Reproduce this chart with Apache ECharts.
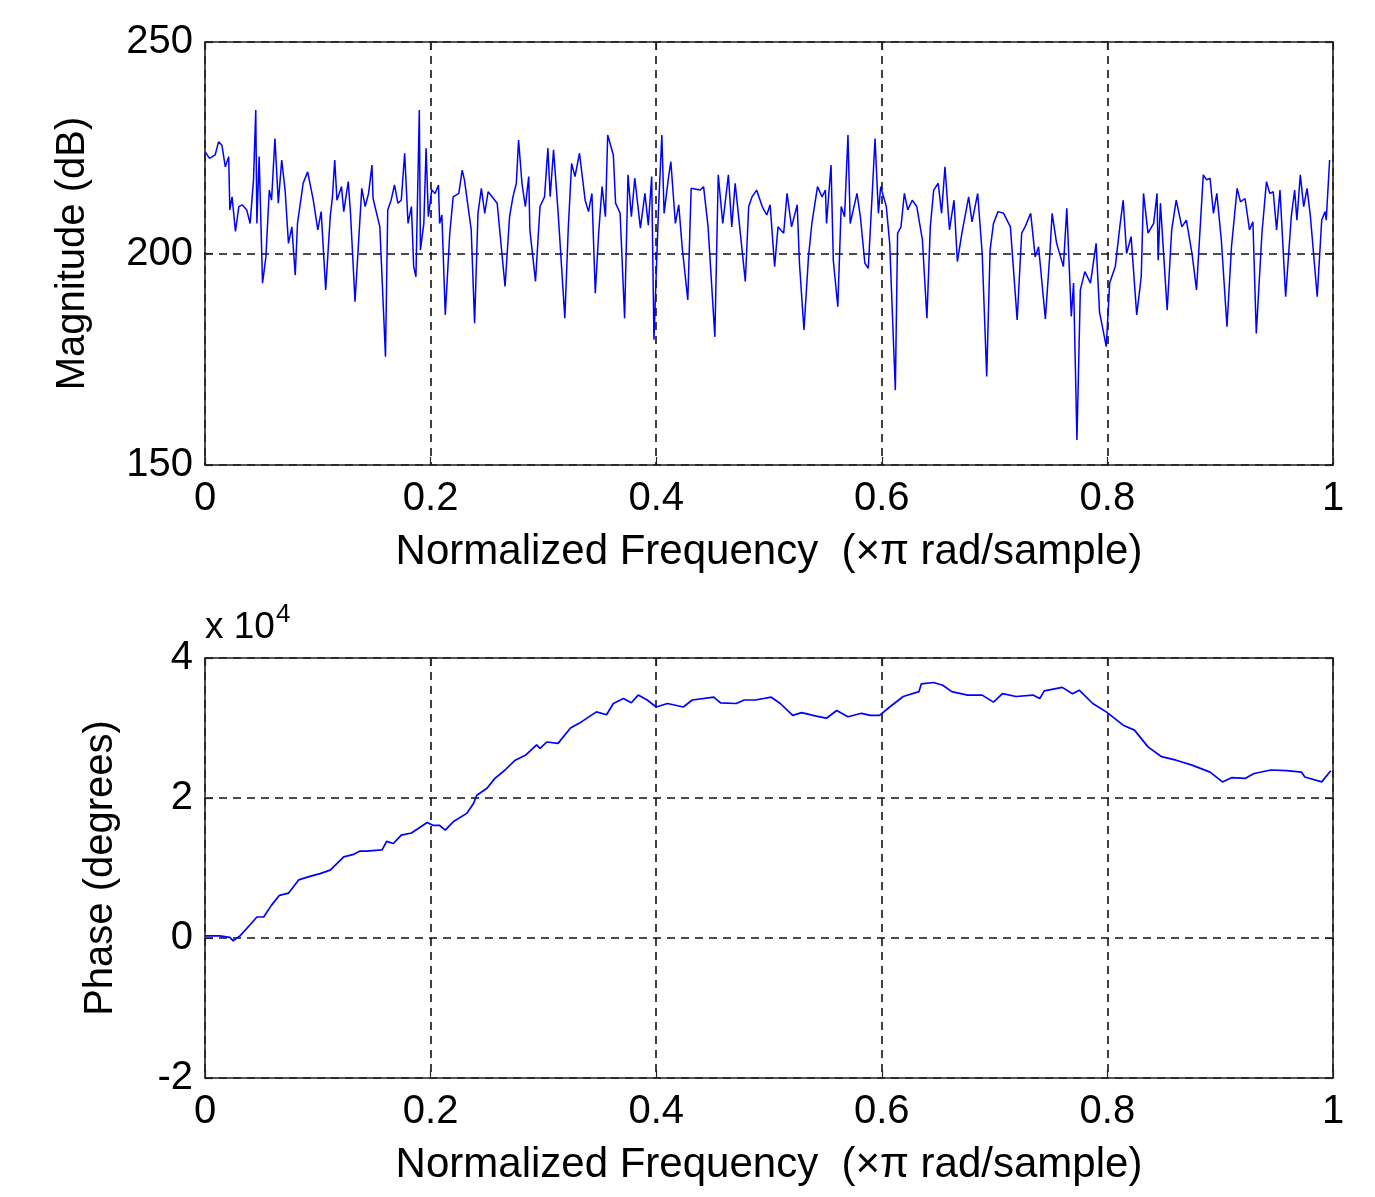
<!DOCTYPE html>
<html>
<head>
<meta charset="utf-8">
<script src="https://cdn.jsdelivr.net/npm/echarts@6/dist/echarts.min.js"></script>
<style>
html,body{margin:0;padding:0;background:#fff;}
#c{width:1375px;height:1197px;}
</style>
</head>
<body>
<div id="c"></div>
<script>
// ---- data ----
var magFreq = [0.000,0.004,0.009,0.012,0.015,0.018,0.021,0.022,0.024,0.027,0.030,0.033,0.037,0.040,0.043,0.045,0.046,0.048,0.051,0.054,0.057,0.059,0.062,0.065,0.068,0.071,0.074,0.077,0.080,0.082,0.087,0.091,0.096,0.100,0.103,0.107,0.111,0.113,0.115,0.117,0.121,0.123,0.127,0.129,0.133,0.139,0.142,0.145,0.148,0.149,0.155,0.160,0.162,0.165,0.168,0.171,0.174,0.177,0.180,0.183,0.185,0.187,0.190,0.191,0.194,0.196,0.198,0.201,0.204,0.207,0.208,0.210,0.213,0.217,0.220,0.225,0.228,0.230,0.236,0.239,0.242,0.245,0.248,0.251,0.259,0.266,0.270,0.273,0.276,0.278,0.281,0.284,0.287,0.288,0.293,0.297,0.301,0.304,0.306,0.309,0.313,0.319,0.322,0.325,0.328,0.332,0.337,0.340,0.343,0.346,0.349,0.352,0.355,0.357,0.362,0.364,0.368,0.372,0.375,0.378,0.381,0.386,0.390,0.393,0.396,0.398,0.402,0.405,0.407,0.411,0.413,0.417,0.420,0.423,0.428,0.431,0.439,0.442,0.446,0.452,0.455,0.459,0.464,0.467,0.470,0.474,0.479,0.482,0.485,0.489,0.494,0.498,0.501,0.505,0.508,0.513,0.516,0.520,0.525,0.527,0.531,0.535,0.538,0.543,0.547,0.550,0.551,0.555,0.557,0.561,0.564,0.567,0.570,0.572,0.578,0.581,0.585,0.588,0.592,0.594,0.597,0.599,0.604,0.607,0.612,0.614,0.617,0.620,0.623,0.627,0.631,0.636,0.640,0.643,0.646,0.650,0.653,0.656,0.660,0.664,0.667,0.671,0.677,0.680,0.685,0.689,0.693,0.696,0.699,0.703,0.708,0.714,0.720,0.724,0.727,0.732,0.736,0.739,0.745,0.749,0.751,0.755,0.761,0.764,0.768,0.770,0.773,0.776,0.780,0.785,0.790,0.793,0.799,0.802,0.807,0.811,0.814,0.817,0.821,0.826,0.830,0.832,0.836,0.841,0.844,0.845,0.847,0.853,0.857,0.861,0.866,0.870,0.875,0.879,0.885,0.888,0.891,0.894,0.897,0.901,0.906,0.910,0.915,0.918,0.922,0.926,0.929,0.932,0.937,0.941,0.944,0.947,0.950,0.953,0.958,0.963,0.966,0.968,0.971,0.974,0.977,0.980,0.986,0.990,0.993,0.994,0.997];
var magDb = [224.1,222.5,223.3,226.4,225.6,220.5,222.9,210.3,213.4,205.2,211.1,211.5,210.3,207.1,217.4,233.9,207.1,222.9,193.0,199.2,215.0,212.6,227.2,211.9,222.1,215.0,202.4,206.3,194.9,207.1,216.6,219.3,212.6,205.6,209.9,191.4,208.7,213.4,222.1,212.6,215.8,209.9,217.0,209.5,188.6,215.4,211.1,214.2,220.9,213.0,206.3,175.6,210.3,212.6,216.2,211.9,212.6,223.7,207.1,211.1,196.9,194.5,233.9,200.8,207.1,224.9,208.7,215.0,214.2,216.2,207.1,209.1,185.5,204.8,213.4,214.2,219.7,217.4,205.6,183.5,209.5,215.4,209.5,214.6,211.9,192.2,208.7,213.4,216.6,226.8,216.6,211.1,218.2,205.6,193.4,211.1,213.4,224.9,213.4,224.5,209.9,184.7,205.6,221.3,218.2,223.7,212.6,209.9,214.2,190.6,204.8,215.8,208.7,228.0,223.3,211.9,209.5,184.7,218.6,208.7,217.8,206.0,214.2,206.7,218.2,179.6,210.3,228.0,209.5,218.2,221.7,207.1,211.5,201.6,189.0,215.4,215.0,215.8,206.3,180.3,218.6,207.1,218.6,206.3,216.6,206.3,193.4,211.1,213.4,215.0,211.1,209.1,211.5,196.9,206.3,204.8,214.2,206.3,211.5,197.7,181.9,199.2,207.1,215.8,213.4,215.0,207.1,220.9,198.4,187.4,211.1,208.7,228.0,207.1,214.2,208.7,197.7,196.5,216.6,227.2,209.5,215.8,211.1,202.4,167.7,204.8,206.3,214.2,210.3,212.6,211.1,203.2,184.7,206.3,215.0,216.6,209.5,220.5,205.6,212.6,198.1,204.8,213.4,207.5,214.2,200.0,170.9,200.8,207.1,209.9,209.5,206.3,184.3,204.8,206.3,209.5,199.2,201.6,184.5,200.0,209.5,202.4,196.9,210.7,185.1,193.0,155.9,191.4,195.7,193.0,202.4,186.2,178.0,193.0,196.9,206.3,212.6,200.0,204.0,185.5,194.5,214.2,204.8,207.1,214.2,198.4,211.9,186.6,205.6,212.6,206.3,207.9,200.0,191.4,218.6,217.4,217.8,209.5,214.2,203.2,182.7,201.6,215.4,212.2,213.0,205.6,207.5,181.1,204.8,217.0,214.2,214.6,205.6,215.0,189.8,208.7,215.0,207.9,218.6,211.1,215.4,208.7,189.8,207.9,209.9,207.9,222.1];

var phaseFreq = [0.000,0.013,0.022,0.025,0.031,0.040,0.046,0.052,0.059,0.066,0.074,0.083,0.093,0.102,0.111,0.123,0.131,0.137,0.143,0.157,0.161,0.167,0.174,0.183,0.197,0.202,0.208,0.213,0.220,0.232,0.238,0.241,0.250,0.257,0.266,0.275,0.284,0.294,0.297,0.303,0.313,0.324,0.332,0.347,0.356,0.362,0.371,0.378,0.384,0.392,0.400,0.410,0.424,0.432,0.451,0.457,0.471,0.478,0.488,0.502,0.510,0.521,0.529,0.539,0.545,0.551,0.560,0.570,0.582,0.590,0.598,0.607,0.619,0.633,0.635,0.646,0.654,0.662,0.676,0.689,0.699,0.707,0.719,0.734,0.740,0.744,0.760,0.769,0.775,0.787,0.799,0.814,0.824,0.836,0.848,0.861,0.875,0.891,0.902,0.910,0.922,0.930,0.945,0.959,0.972,0.975,0.990,0.998];
var phaseE4 = [0.03,0.03,0.01,-0.04,0.03,0.19,0.30,0.30,0.47,0.61,0.64,0.83,0.88,0.92,0.97,1.16,1.19,1.24,1.24,1.26,1.38,1.35,1.47,1.50,1.65,1.61,1.61,1.54,1.66,1.78,1.92,2.04,2.14,2.28,2.40,2.54,2.61,2.76,2.71,2.80,2.78,3.00,3.07,3.23,3.19,3.35,3.42,3.36,3.47,3.40,3.30,3.35,3.30,3.40,3.44,3.36,3.35,3.40,3.40,3.44,3.35,3.18,3.22,3.18,3.16,3.14,3.25,3.16,3.21,3.18,3.18,3.30,3.45,3.52,3.63,3.65,3.61,3.52,3.47,3.47,3.37,3.49,3.45,3.47,3.42,3.53,3.58,3.49,3.54,3.35,3.23,3.04,2.97,2.73,2.59,2.54,2.47,2.37,2.23,2.29,2.28,2.35,2.40,2.39,2.37,2.30,2.23,2.39];

var xTicks = [0, 0.2, 0.4, 0.6, 0.8, 1];
var magTicks = [150, 200, 250];
var phaseTicks = [-2, 0, 2, 4];
var xName = 'Normalized Frequency  (\u00d7\u03c0 rad/sample)';

// ---- chart ----
var FONT = '"Liberation Sans", Arial, Helvetica, sans-serif';
var chart = echarts.init(document.getElementById('c'), null, {renderer: 'canvas'});
function pairs(xs, ys){ return xs.map(function(x,i){ return [x, ys[i]]; }); }
function xLabel(v){ return (v === 0 || v === 1) ? String(v) : v.toFixed(1); }
var dashed = {show:true, lineStyle:{color:'#111', type:[8,6], width:1.6}};
function xAx(gi, pos, show){
  return {type:'value', gridIndex:gi, position:pos, min:0, max:1, interval:0.2,
    axisLine:{show:true, onZero:false, lineStyle:{color:'#222', width:1.6}},
    axisTick:{show:true, inside:true, length:8, lineStyle:{color:'#222', width:1.2}},
    axisLabel:{show:show, formatter:xLabel, color:'#000', fontSize:40, fontFamily:FONT, margin:14},
    splitLine: show ? dashed : {show:false},
    name: show ? xName : '', nameLocation:'middle', nameGap:66,
    nameTextStyle:{color:'#000', fontSize:42, fontFamily:FONT}};
}
function yAx(gi, pos, show, mn, mx, iv, nm, gap){
  return {type:'value', gridIndex:gi, position:pos, min:mn, max:mx, interval:iv,
    axisLine:{show:true, onZero:false, lineStyle:{color:'#222', width:1.6}},
    axisTick:{show:true, inside:true, length:8, lineStyle:{color:'#222', width:1.2}},
    axisLabel:{show:show, color:'#000', fontSize:40, fontFamily:FONT, margin:12},
    splitLine: show ? dashed : {show:false},
    name: show ? nm : '', nameLocation:'middle', nameGap:gap, nameRotate:90,
    nameTextStyle:{color:'#000', fontSize:40, fontFamily:FONT}};
}
chart.setOption({
  animation:false,
  backgroundColor:'#fff',
  grid:[
    {left:205, top:42, width:1128, height:423, show:false},
    {left:205, top:658, width:1128, height:420, show:false}
  ],
  xAxis:[ xAx(0,'bottom',true), xAx(0,'top',false), xAx(1,'bottom',true), xAx(1,'top',false) ],
  yAxis:[
    yAx(0,'left',true,150,250,50,'Magnitude (dB)',112),
    yAx(0,'right',false,150,250,50,'',0),
    yAx(1,'left',true,-2,4,2,'Phase (degrees)',84),
    yAx(1,'right',false,-2,4,2,'',0)
  ],
  series:[
    {type:'line', xAxisIndex:0, yAxisIndex:0, data:pairs(magFreq, magDb), showSymbol:false, symbol:'none',
     lineStyle:{color:'#0000ff', width:1.5}, z:3},
    {type:'line', xAxisIndex:2, yAxisIndex:2, data:pairs(phaseFreq, phaseE4), showSymbol:false, symbol:'none',
     lineStyle:{color:'#0000ff', width:1.7}, z:3}
  ],
  graphic:[
    {type:'text', left:205, top:602, style:{
      text:'{a|x 10}{b|4}', font:'36px ' + FONT,
      rich:{a:{fontSize:37, fontFamily:FONT, fill:'#000', verticalAlign:'bottom', lineHeight:44},
            b:{fontSize:26, fontFamily:FONT, fill:'#000', verticalAlign:'top', padding:[0,0,14,1], lineHeight:44}}
    }}
  ]
});
</script>
</body>
</html>
